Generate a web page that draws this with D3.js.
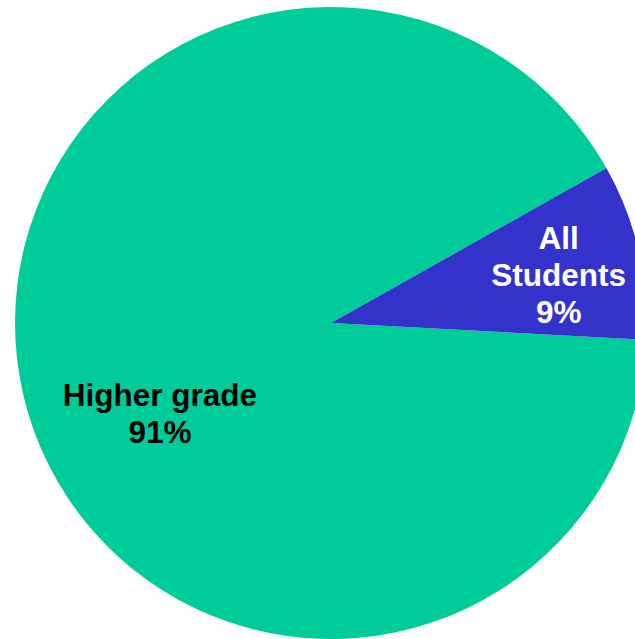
<!DOCTYPE html>
<html>
<head>
<meta charset="utf-8">
<script src="https://cdn.jsdelivr.net/npm/d3@7/dist/d3.min.js"></script>
<style>
  html, body { margin: 0; padding: 0; background: #fff; overflow: hidden; }
  svg { display: block; }
</style>
</head>
<body>
<svg id="chart" width="635" height="639"></svg>
<script>
const categories = ["Higher grade", "All Students"];
const values = [91, 9];
const colors = ["#00CC99", "#3333CC"];
const labelColors = ["#000000", "#FFFFFF"];
const labelLines = [["Higher grade", "91%"], ["All", "Students", "9%"]];

const width = 635, height = 639;
const cx = 331, cy = 323, R = 316;
const startDeg = 93.05;

const svg = d3.select("#chart");
const g = svg.append("g").attr("transform", `translate(${cx},${cy})`);

const data = categories.map((c, i) => ({ name: c, value: values[i], i }));
const pie = d3.pie().sort(null).value(d => d.value)
  .startAngle(startDeg * Math.PI / 180)
  .endAngle(startDeg * Math.PI / 180 + 2 * Math.PI);
const arcs = pie(data);
const arc = d3.arc().innerRadius(0).outerRadius(R);

g.selectAll("path.slice").data(arcs).enter().append("path")
  .attr("class", "slice")
  .attr("d", arc)
  .attr("fill", d => colors[d.data.i]);

// label placement: polar angle (deg, clockwise from top) and radius fraction
const labelPolar = [{ a: 242.2, r: 0.612 }, { a: 77.9, r: 0.737 }];
const fontSize = 31.5, lineH = 37;

arcs.forEach(d => {
  const p = labelPolar[d.data.i];
  const a = p.a * Math.PI / 180;
  const x = Math.sin(a) * R * p.r;
  const y = -Math.cos(a) * R * p.r;
  const lines = labelLines[d.data.i];
  const t = g.append("text")
    .attr("text-anchor", "middle")
    .attr("font-family", "Liberation Sans, Arial, sans-serif")
    .attr("font-weight", "bold")
    .attr("font-size", fontSize)
    .attr("fill", labelColors[d.data.i]);
  const n = lines.length;
  lines.forEach((ln, k) => {
    t.append("tspan")
      .attr("x", x)
      .attr("y", y + (k - (n - 1) / 2) * lineH + fontSize * 0.36)
      .text(ln);
  });
});
</script>
</body>
</html>
